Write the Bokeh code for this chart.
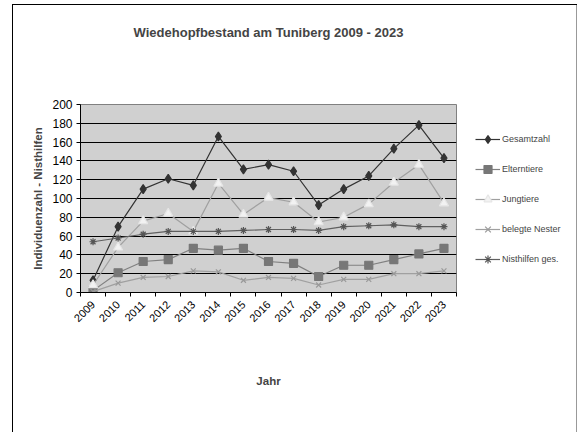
import math
from bokeh.plotting import figure
from bokeh.models import FixedTicker, Range1d, Legend, Title
from bokeh.embed import file_html
from bokeh.resources import INLINE

years = [2009, 2010, 2011, 2012, 2013, 2014, 2015, 2016, 2017, 2018, 2019, 2020, 2021, 2022, 2023]
gesamtzahl = [13, 70, 110, 121, 114, 166, 131, 136, 129, 93, 110, 124, 153, 178, 143]
elterntiere = [2, 21, 33, 35, 47, 45, 47, 33, 31, 17, 29, 29, 35, 41, 47]
jungtiere = [8, 48, 76, 84, 65, 116, 83, 101, 96, 75, 80, 94, 117, 136, 95]
belegte_nester = [1, 10, 16, 17, 23, 22, 13, 16, 15, 8, 14, 14, 20, 20, 23]
nisthilfen = [54, 58, 62, 65, 65, 65, 66, 67, 67, 66, 70, 71, 72, 70, 70]
y_ticks = [0, 20, 40, 60, 80, 100, 120, 140, 160, 180, 200]

FONT = "Liberation Sans"

p = figure(frame_width=376, frame_height=188, output_backend="svg", toolbar_location=None,
           title="Wiedehopfbestand am Tuniberg 2009 - 2023",
           x_range=Range1d(2008.5, 2023.5), y_range=Range1d(0, 200),
           min_border_left=80, min_border_right=122, min_border_top=104, min_border_bottom=140)
p.background_fill_color = "#d0d0d0"
p.border_fill_color = None
p.outline_line_color = "#808080"
p.outline_line_width = 1
p.styles = {
    "background-color": "white",
    "background-image": "linear-gradient(#000,#000), linear-gradient(#000,#000), linear-gradient(#999,#999)",
    "background-position": "12px 4px, 12px 4px, 576px 4px",
    "background-size": "1px 428px, 565px 1px, 1px 428px",
    "background-repeat": "no-repeat",
}

p.title.text_font = FONT
p.title.text_font_size = "13px"
p.title.text_font_style = "bold"
p.title.align = "center"
p.title.vertical_align = "bottom"
p.title.standoff = 10

# spacer between the frame and the title
p.add_layout(Title(text=" ", text_font_size="10px", standoff=47), "above")

# axes
p.xaxis.ticker = FixedTicker(ticks=years, minor_ticks=[y - 0.5 for y in years] + [2023.5])
p.xaxis.major_label_overrides = {y: str(y) for y in years}
p.xaxis.major_tick_line_color = None
p.xaxis.minor_tick_in = 0
p.xaxis.minor_tick_out = 4
p.xaxis.minor_tick_line_color = "black"
p.xaxis.major_label_orientation = math.pi / 4
p.xaxis.major_label_text_font = FONT
p.xaxis.major_label_text_font_size = "11px"
p.xaxis.major_label_text_color = "black"
p.xaxis.major_label_standoff = 4
p.xaxis.axis_line_color = "black"
p.xaxis.axis_label = "Jahr"
p.xaxis.axis_label_text_font = FONT
p.xaxis.axis_label_text_font_size = "11.5px"
p.xaxis.axis_label_text_font_style = "bold"
p.xaxis.axis_label_standoff = 47

p.yaxis.ticker = FixedTicker(ticks=y_ticks)
p.yaxis.minor_tick_line_color = None
p.yaxis.major_tick_in = 0
p.yaxis.major_tick_out = 4
p.yaxis.major_tick_line_color = "black"
p.yaxis.major_label_text_font = FONT
p.yaxis.major_label_text_font_size = "12px"
p.yaxis.major_label_text_color = "black"
p.yaxis.major_label_standoff = 4
p.yaxis.axis_line_color = "black"
p.yaxis.axis_label = "Individuenzahl - Nisthilfen"
p.yaxis.axis_label_text_font = FONT
p.yaxis.axis_label_text_font_size = "11.5px"
p.yaxis.axis_label_text_font_style = "bold"
p.yaxis.axis_label_standoff = 5

p.xgrid.grid_line_color = None
p.ygrid.ticker = FixedTicker(ticks=y_ticks[1:-1])
p.ygrid.grid_line_color = "black"
p.ygrid.grid_line_width = 1

series = [
    ("Gesamtzahl", gesamtzahl, "#333333", "diamond", "#333333", "#333333", 9),
    ("Elterntiere", elterntiere, "#808080", "square", "#777777", "#777777", 8),
    ("Jungtiere", jungtiere, "#a0a0a0", "triangle", "#f2f2f2", "#e6e6e6", 9),
    ("belegte Nester", belegte_nester, "#a0a0a0", "x", "#999999", "#999999", 7),
    ("Nisthilfen ges.", nisthilfen, "#606060", "asterisk", "#555555", "#555555", 7),
]
items = []
for name, vals, lc, marker, fc, mlc, size in series:
    r1 = p.line(years, vals, line_color=lc, line_width=1.2)
    r2 = p.scatter(years, vals, marker=marker, size=size, fill_color=fc, line_color=mlc, line_width=1.2)
    items.append((name, [r1, r2]))

legend = Legend(items=items, location=(19, 23), padding=0, spacing=10, glyph_width=25,
                glyph_height=20, label_standoff=2, border_line_color=None,
                background_fill_alpha=0, label_text_font=FONT, label_text_font_size="9px",
                margin=0)
p.add_layout(legend, "right")

open("out.html", "w").write(file_html(p, INLINE))
